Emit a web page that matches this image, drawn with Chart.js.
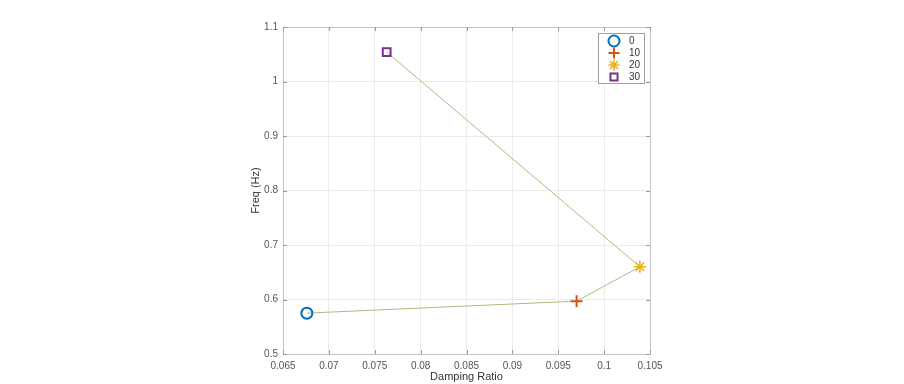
<!DOCTYPE html>
<html>
<head>
<meta charset="utf-8">
<script src="https://cdn.jsdelivr.net/npm/chart.js@4"></script>
<style>
html,body{margin:0;padding:0;background:#fff;}
#wrap{width:904px;height:384px;position:relative;}
</style>
</head>
<body>
<div id="wrap"><canvas id="c" width="904" height="384"></canvas></div>
<script>
const seriesLabels = ['0', '10', '20', '30'];
const dampingRatio = [0.0676, 0.0970, 0.1039, 0.0763];
const freqHz = [0.575, 0.597, 0.660, 1.054];
const markerColors = ['#0072BD', '#D95319', '#EDB120', '#7E2F8E'];
const markerStyles = ['circle', 'cross', 'star', 'rect'];
const xTicks = [0.065, 0.07, 0.075, 0.08, 0.085, 0.09, 0.095, 0.1, 0.105];
const yTicks = [0.5, 0.6, 0.7, 0.8, 0.9, 1, 1.1];

const FONT = 'Liberation Sans, Arial, sans-serif';

const markerDatasets = seriesLabels.map((lab, i) => ({
  label: lab,
  data: [{x: dampingRatio[i], y: freqHz[i]}],
  pointStyle: markerStyles[i],
  pointRadius: markerStyles[i] === 'rect' ? 5.5 : (markerStyles[i] === 'circle' ? 5.5 : 6),
  pointBorderColor: markerColors[i],
  pointBackgroundColor: 'rgba(0,0,0,0)',
  pointBorderWidth: markerStyles[i] === 'star' ? 1.6 : 2,
  showLine: false,
  order: 0
}));

const lineDataset = {
  label: '_line',
  data: dampingRatio.map((x, i) => ({x: x, y: freqHz[i]})),
  showLine: true,
  borderColor: '#aebb7c',
  borderWidth: 1,
  pointRadius: 0,
  order: 1
};

const frameTicks = {
  id: 'frameTicks',
  afterDraw(chart) {
    const {ctx, chartArea: a, scales: {x, y}} = chart;
    ctx.save();
    ctx.strokeStyle = '#c4c4c4';
    ctx.lineWidth = 1;
    ctx.strokeRect(Math.round(a.left) + 0.5, Math.round(a.top) + 0.5, Math.round(a.right - a.left), Math.round(a.bottom - a.top));
    ctx.strokeStyle = '#9a9a9a';
    ctx.beginPath();
    const L = 4;
    xTicks.forEach(v => {
      const px = Math.round(x.getPixelForValue(v)) + 0.5;
      ctx.moveTo(px, a.bottom); ctx.lineTo(px, a.bottom - L);
      ctx.moveTo(px, a.top); ctx.lineTo(px, a.top + L);
    });
    yTicks.forEach(v => {
      const py = Math.round(y.getPixelForValue(v)) + 0.5;
      ctx.moveTo(a.left, py); ctx.lineTo(a.left + L, py);
      ctx.moveTo(a.right, py); ctx.lineTo(a.right - L, py);
    });
    ctx.stroke();

    // legend
    const lx = 598, ly = 33, lw = 46, lh = 50;
    ctx.fillStyle = '#ffffff';
    ctx.fillRect(lx, ly, lw, lh);
    ctx.strokeStyle = '#a0a0a0';
    ctx.strokeRect(lx + 0.5, ly + 0.5, lw, lh);
    seriesLabels.forEach((lab, i) => {
      const cy = ly + 8 + i * 12;
      const ds = chart.data.datasets[i];
      ctx.strokeStyle = markerColors[i];
      ctx.fillStyle = 'rgba(0,0,0,0)';
      ctx.lineWidth = ds.pointBorderWidth;
      Chart.helpers.drawPoint(ctx, {
        pointStyle: ds.pointStyle,
        rotation: 0,
        radius: ds.pointStyle === 'rect' ? 5 : 5.5,
        borderWidth: ds.pointBorderWidth
      }, 614, cy);
      ctx.fillStyle = '#333';
      ctx.font = '10px ' + FONT;
      ctx.textBaseline = 'middle';
      ctx.textAlign = 'left';
      ctx.fillText(lab, 629, cy + 0.5);
      ctx.lineWidth = 1;
    });
    ctx.restore();
  }
};

new Chart(document.getElementById('c'), {
  type: 'scatter',
  data: { datasets: [...markerDatasets, lineDataset] },
  options: {
    responsive: false,
    animation: false,
    layout: { padding: { left: 249, right: 254, top: 27, bottom: 0 } },
    plugins: { legend: { display: false }, tooltip: { enabled: false } },
    scales: {
      x: {
        type: 'linear',
        min: 0.065, max: 0.105,
        afterBuildTicks: s => { s.ticks = xTicks.map(v => ({value: v})); },
        afterFit: s => { s.height = 30; },
        grid: { color: '#ebebeb', drawTicks: false },
        border: { display: false },
        ticks: { padding: 6, color: '#555', font: { family: FONT, size: 10 },
          callback: v => String(+v.toFixed(3)) },
        title: { display: true, text: 'Damping Ratio', color: '#333', font: { family: FONT, size: 11 }, padding: { top: 1, bottom: 0 } }
      },
      y: {
        type: 'linear',
        min: 0.5, max: 1.1,
        afterBuildTicks: s => { s.ticks = yTicks.map(v => ({value: v})); },
        afterFit: s => { s.width = 34; },
        grid: { color: '#ebebeb', drawTicks: false },
        border: { display: false },
        ticks: { padding: 5, color: '#555', font: { family: FONT, size: 10 },
          callback: v => String(+v.toFixed(1)) },
        title: { display: true, text: 'Freq (Hz)', color: '#333', font: { family: FONT, size: 11 }, padding: { top: 0, bottom: 4 } }
      }
    }
  },
  plugins: [frameTicks]
});
</script>
</body>
</html>
